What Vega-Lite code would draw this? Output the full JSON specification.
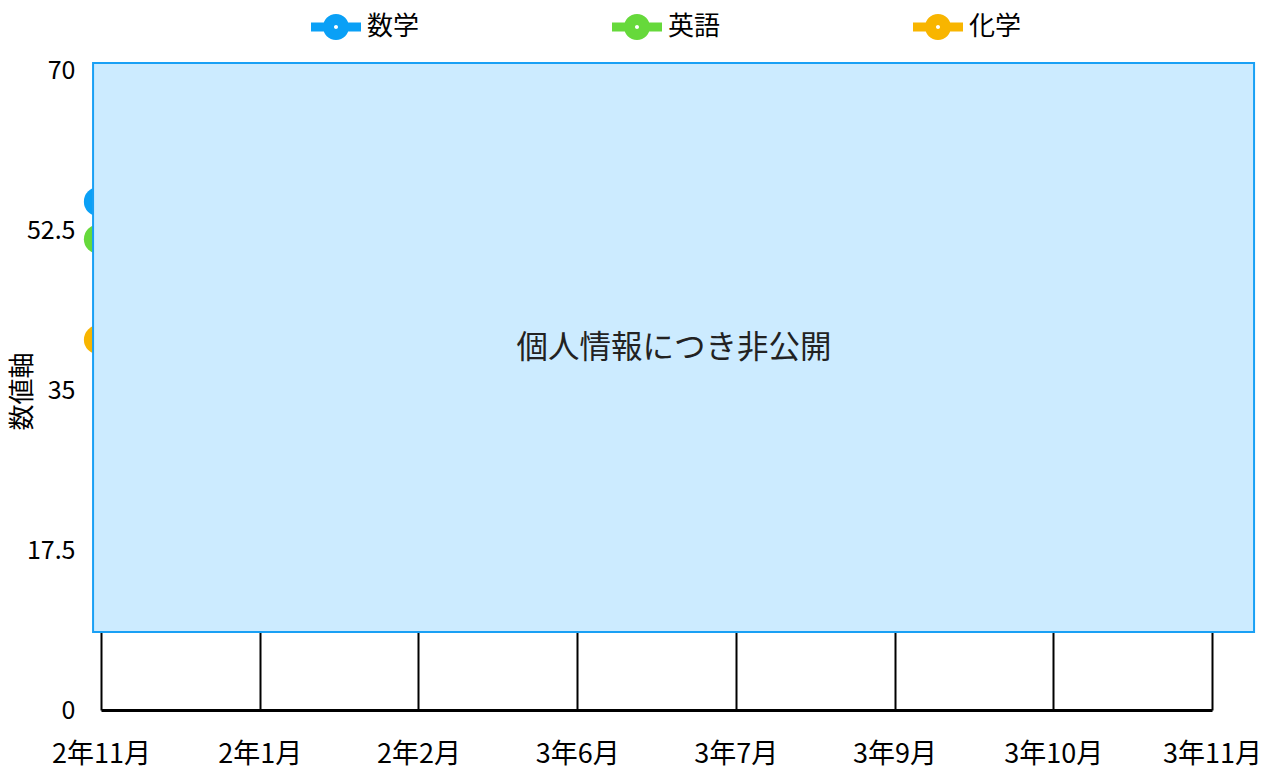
{
  "$schema": "https://vega.github.io/schema/vega-lite/v6.json",
  "autosize": {"type": "none"},
  "padding": {"left": 101, "top": 70, "right": 61, "bottom": 59},
  "width": 1111,
  "height": 640,
  "background": "white",
  "config": {
    "view": {"stroke": null},
    "font": "Noto Sans CJK JP",
    "axisY": {
      "titleFontSize": 26, "titleFontWeight": "normal", "titleColor": "black",
      "titleX": -79, "titleY": 321, "titleAngle": -90, "titleAlign": "center", "titleBaseline": "middle",
      "labelFontSize": 25, "labelColor": "black", "labelPadding": 26,
      "labelExpr": "format(datum.value, '~g')",
      "domain": false, "ticks": false, "tickSize": 0, "grid": false,
      "labelFlush": false, "labelOverlap": false
    }
  },
  "datasets": {
    "scores": [
      {"month": "2年11月", "subject": "数学", "value": 55.6},
      {"month": "2年11月", "subject": "英語", "value": 51.5},
      {"month": "2年11月", "subject": "化学", "value": 40.5}
    ],
    "mask": [
      {"x0": -0.05, "x1": 7.265, "y0": 8.53, "y1": 70.77, "xc": 3.61, "yc": 39.5, "label": "個人情報につき非公開"}
    ]
  },
  "layer": [
    {
      "data": {"name": "scores"},
      "encoding": {
        "x": {
          "field": "month", "type": "ordinal",
          "scale": {"type": "point", "padding": 0, "domain": ["2年11月", "2年1月", "2年2月", "3年6月", "3年7月", "3年9月", "3年10月", "3年11月"]},
          "axis": {
            "title": null, "labelFontSize": 27, "labelColor": "black", "labelPadding": 44, "labelBaseline": "middle",
            "ticks": false, "tickSize": 0, "domainColor": "black", "domainWidth": 3,
            "grid": true, "gridColor": "black", "gridWidth": 2, "gridOpacity": 1,
            "labelAngle": 0, "labelFlush": false, "labelOverlap": false
          }
        },
        "y": {
          "field": "value", "type": "quantitative", "title": "数値軸",
          "scale": {"domain": [0, 70], "nice": false},
          "axis": {"values": [0, 17.5, 35, 52.5, 70], "title": "数値軸"}
        },
        "color": {
          "field": "subject", "type": "nominal",
          "scale": {"domain": ["数学", "英語", "化学"], "range": ["#0AA0F6", "#66D93B", "#F8B500"]},
          "legend": {
            "orient": "none", "legendX": 210, "legendY": -68, "direction": "horizontal", "title": null,
            "symbolType": "M-1,-0.18H-0.46V0.18H-1Z M0.46,-0.18H1V0.18H0.46Z M-0.52,0A0.52,0.52 0 1,1 0.52,0A0.52,0.52 0 1,1 -0.52,0Z M-0.08,0A0.08,0.08 0 1,0 0.08,0A0.08,0.08 0 1,0 -0.08,0Z",
            "symbolSize": 2500, "symbolStrokeWidth": 0, "symbolOpacity": 1,
            "labelFontSize": 26, "labelOffset": 6, "columnPadding": 192, "labelColor": "black", "padding": 0
          }
        }
      },
      "layer": [
        {"mark": {"type": "line", "strokeWidth": 9}},
        {"mark": {"type": "point", "filled": true, "shape": "circle", "size": 855, "opacity": 1, "xOffset": -2.5}}
      ]
    },
    {
      "data": {"name": "mask"},
      "layer": [
        {
          "mark": {"type": "rect", "fill": "#CCEBFF", "stroke": "#19A0F5", "strokeWidth": 2},
          "encoding": {
            "x": {"field": "x0", "type": "quantitative", "scale": {"domain": [0, 7], "nice": false, "zero": false}, "axis": null},
            "x2": {"field": "x1"},
            "y": {
              "field": "y1", "type": "quantitative", "title": "数値軸", "scale": {"domain": [0, 70], "nice": false},
              "axis": {"values": [0, 17.5, 35, 52.5, 70], "title": "数値軸"}
            },
            "y2": {"field": "y0"}
          }
        },
        {
          "mark": {"type": "text", "fontSize": 31.5, "color": "#222222", "align": "center", "baseline": "middle"},
          "encoding": {
            "x": {"field": "xc", "type": "quantitative", "scale": {"domain": [0, 7], "nice": false, "zero": false}, "axis": null},
            "y": {
              "field": "yc", "type": "quantitative", "title": "数値軸", "scale": {"domain": [0, 70], "nice": false},
              "axis": {"values": [0, 17.5, 35, 52.5, 70], "title": "数値軸"}
            },
            "text": {"field": "label"}
          }
        }
      ]
    }
  ],
  "resolve": {"scale": {"x": "independent"}}
}
